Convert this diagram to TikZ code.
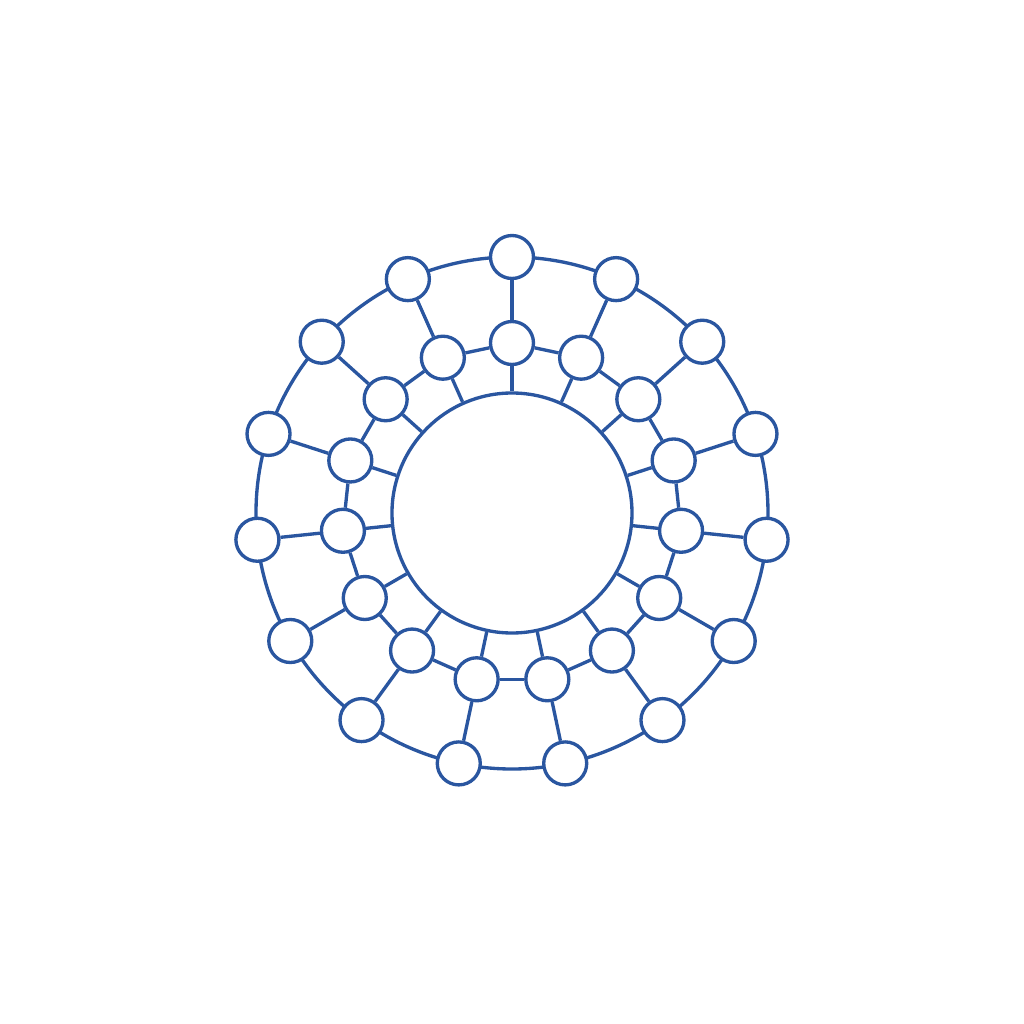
\documentclass[tikz,border=0pt]{standalone}
\usepackage{tikz}

\definecolor{ringblue}{HTML}{2A56A0}

\begin{document}
\begin{tikzpicture}[
        line width=0.95pt,
        every node/.style={circle, draw=ringblue, fill=white, minimum size=4.3mm, inner sep=0pt},
        link/.style={draw=ringblue}
    ]
 \useasboundingbox (-5.12,-5.11) rectangle (5.12,5.13);
 % outer ring and core
 \draw[link] (0,0) circle (2.56);
 \node[minimum size=24mm] (core) at (0,0) {};
 \foreach \i in {0,...,14} {
     \node (outer\i) at ({90+24*\i}:2.56) {};
     \node (inner\i) at ({90+24*\i}:1.70) {};
 }
 \foreach \i [evaluate=\i as \j using {int(mod(\i+1,15))}] in {0,...,14} {
     \draw[link] (outer\i) -- (inner\i);
     \draw[link] (inner\i) -- (core);
     \draw[link] (inner\i) -- (inner\j);
 }
    \end{tikzpicture}
\end{document}
